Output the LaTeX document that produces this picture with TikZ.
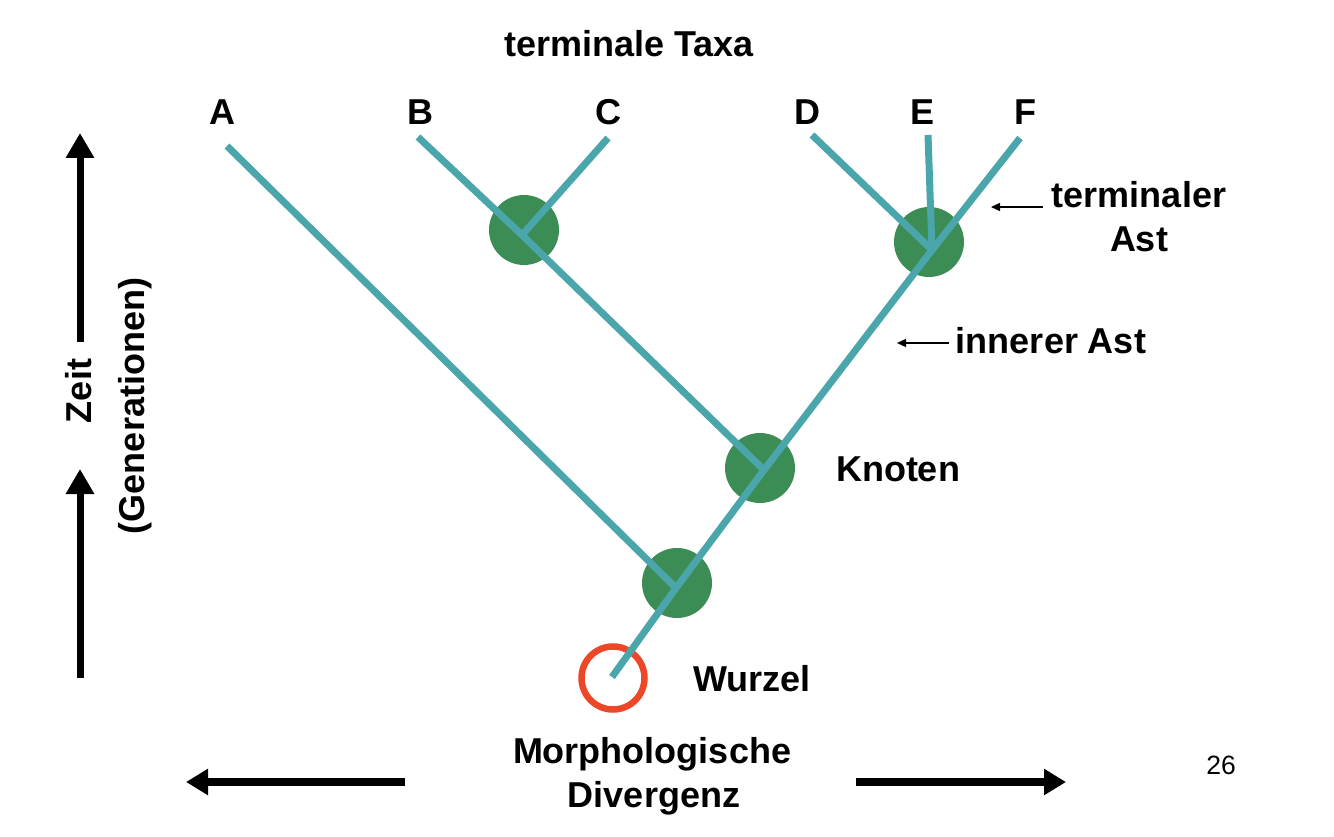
\documentclass[tikz,border=0pt]{standalone}
\usepackage{fontspec}
\setmainfont{Liberation Sans}
\usetikzlibrary{arrows.meta}
\definecolor{branch}{RGB}{74,166,170}
\definecolor{knotgreen}{RGB}{59,140,85}
\definecolor{rootred}{RGB}{236,72,40}
\begin{document}
\begin{tikzpicture}[x=1pt,y=-1pt,
  lbl/.style={font=\fontsize{36}{43}\selectfont\bfseries, anchor=base, inner sep=0pt},
  knot/.style={circle, fill=knotgreen, draw=none, minimum size=70pt, inner sep=0pt},
  rootc/.style={circle, draw=rootred, line width=6.5pt, minimum size=63pt, inner sep=0pt},
  br/.style={draw=branch, line width=7pt},
  ptr/.style={draw=black, line width=1.4pt, -{Triangle[length=9pt,width=8pt]}},
  bigup/.style={draw=black, line width=7pt, -{Triangle[length=25pt,width=27pt]}},
  bigside/.style={draw=black, line width=8.5pt, -{Triangle[length=22pt,width=25pt]}}]
\fill[white] (0,0) rectangle (1334,837);
\useasboundingbox (0,0) rectangle (1334,837);

% nodes (circles)
\node[knot] (k1) at (524,230) {};
\node[knot] (k2) at (760,468) {};
\node[knot] (k3) at (929,242) {};
\node[knot] (k4) at (677,583) {};
\node[rootc] (root) at (613,678) {};

% branch points
\coordinate (tA) at (227,146);
\coordinate (tB) at (418,137);
\coordinate (tC) at (608,138);
\coordinate (tD) at (812,135);
\coordinate (tE) at (928,135);
\coordinate (tF) at (1020,138);
\coordinate (j1) at (522,235);
\coordinate (j2) at (764,470);
\coordinate (j3) at (932,250);
\coordinate (j4) at (676,588);
\coordinate (r0) at (612,677);

% branches
\draw[br] (r0) -- (j4) -- (j2) -- (j3);
\draw[br] (tA) -- (j4);
\draw[br] (tB) -- (j1) -- (j2);
\draw[br] (tC) -- (j1);
\draw[br] (tD) -- (j3);
\draw[br] (tE) -- (j3);
\draw[br] (tF) -- (j3);

% labels
\node[lbl] (title) at (629,57) {terminale Taxa};
\node[lbl] (lA) at (222,125) {A};
\node[lbl] (lB) at (420,125) {B};
\node[lbl] (lC) at (608,125) {C};
\node[lbl] (lD) at (807,125) {D};
\node[lbl] (lE) at (922,125) {E};
\node[lbl] (lF) at (1025,125) {F};
\node[lbl] (tl1) at (1139,208) {terminaler};
\node[lbl] (tl2) at (1139,252) {Ast};
\node[lbl] (ia) at (1051,353) {innerer Ast};
\node[lbl] (kn) at (898,481) {Knoten};
\node[lbl] (wz) at (752,691) {Wurzel};
\node[lbl] (md1) at (652,763) {Morphologische};
\node[lbl] (md2) at (654,807) {Divergenz};
\node[font=\fontsize{26.5}{30}\selectfont, anchor=base, inner sep=0pt] (pg) at (1221,774) {26};
\node[lbl, anchor=center, rotate=90] (zeit) at (79,391) {Zeit};
\node[lbl, anchor=center, rotate=90] (gen) at (135,406) {(Generationen)};

% pointer arrows
\coordinate (tat) at (991,207);
\coordinate (iat) at (897,343);
\draw[ptr, shorten <=9pt] (tl1.base west |- tat) -- (tat);
\draw[ptr, shorten <=7pt] (ia.base west |- iat) -- (iat);

% axis arrows
\coordinate (u1a) at (80,342);
\coordinate (u1b) at (80,133);
\coordinate (u2a) at (80,678);
\coordinate (u2b) at (80,469);
\draw[bigup] (u1a) -- (u1b);
\draw[bigup] (u2a) -- (u2b);
\coordinate (hla) at (405,782);
\coordinate (hlb) at (186,782);
\coordinate (hra) at (856,782);
\coordinate (hrb) at (1066,782);
\draw[bigside] (hla) -- (hlb);
\draw[bigside] (hra) -- (hrb);
\end{tikzpicture}
\end{document}
